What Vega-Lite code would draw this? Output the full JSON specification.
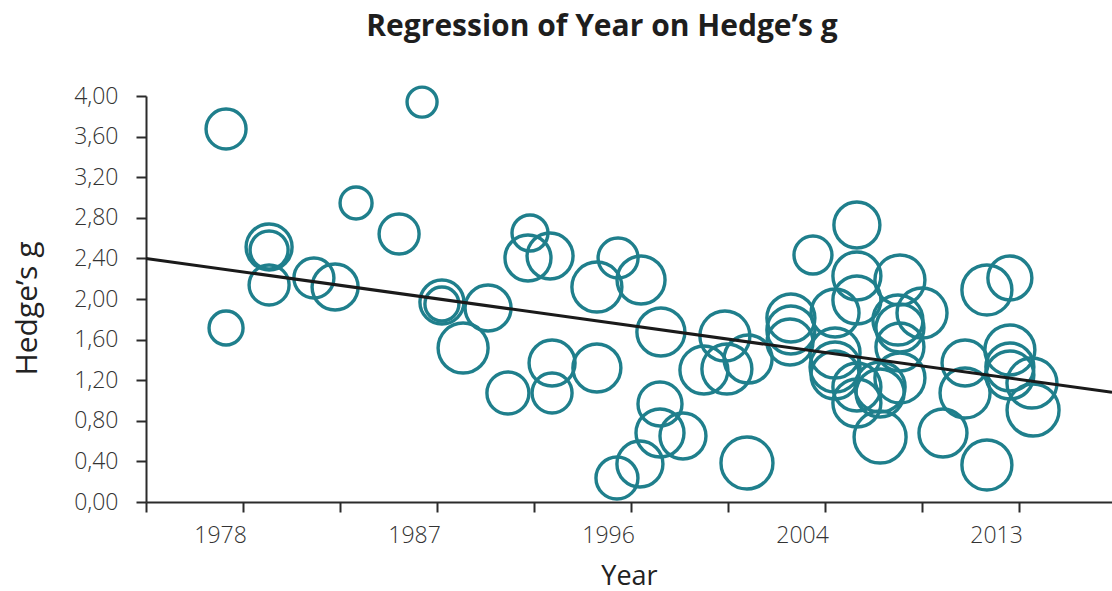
{
  "$schema": "https://vega.github.io/schema/vega-lite/v6.json",
  "width": 966,
  "height": 406,
  "autosize": {"type": "none"},
  "padding": {"left": 146, "top": 96, "right": 0, "bottom": 89},
  "background": "white",
  "title": {
    "text": "Regression of Year on Hedge’s g",
    "font": "Open Sans",
    "fontSize": 30,
    "fontWeight": "bold",
    "color": "#1e1e1e",
    "anchor": "middle",
    "dx": -27,
    "offset": 38
  },
  "config": {
    "view": {"stroke": null},
    "axis": {
      "grid": false,
      "domainColor": "#2b2b2b",
      "domainWidth": 2,
      "tickColor": "#2b2b2b",
      "tickWidth": 2,
      "tickSize": 10,
      "labelFont": "Open Sans",
      "labelFontSize": 23,
      "labelFontWeight": 300,
      "labelColor": "#333333",
      "titleFont": "Open Sans",
      "titleFontSize": 28,
      "titleFontWeight": "normal",
      "titleColor": "#222222"
    }
  },
  "datasets": {
    "studies": [
      {"year": 1977.54, "g": 3.675, "weight": 20},
      {"year": 1986.33, "g": 3.94, "weight": 15},
      {"year": 1983.37, "g": 2.946, "weight": 16},
      {"year": 1985.30, "g": 2.64, "weight": 20},
      {"year": 1979.47, "g": 2.512, "weight": 23},
      {"year": 1979.47, "g": 2.483, "weight": 19},
      {"year": 1979.47, "g": 2.138, "weight": 20},
      {"year": 1981.48, "g": 2.207, "weight": 20},
      {"year": 1982.43, "g": 2.118, "weight": 23},
      {"year": 1977.54, "g": 1.714, "weight": 17},
      {"year": 1987.22, "g": 1.97, "weight": 22},
      {"year": 1987.22, "g": 1.951, "weight": 17},
      {"year": 1989.29, "g": 1.911, "weight": 23},
      {"year": 1988.17, "g": 1.517, "weight": 25},
      {"year": 1990.18, "g": 1.074, "weight": 21},
      {"year": 1991.17, "g": 2.65, "weight": 18},
      {"year": 1991.08, "g": 2.404, "weight": 23},
      {"year": 1992.07, "g": 2.424, "weight": 23},
      {"year": 1992.16, "g": 1.369, "weight": 23},
      {"year": 1992.16, "g": 1.074, "weight": 20},
      {"year": 1994.17, "g": 2.118, "weight": 25},
      {"year": 1994.17, "g": 1.32, "weight": 24},
      {"year": 1995.12, "g": 2.404, "weight": 20},
      {"year": 1996.15, "g": 2.187, "weight": 24},
      {"year": 1997.04, "g": 1.675, "weight": 24},
      {"year": 1997.0, "g": 0.966, "weight": 22},
      {"year": 1997.0, "g": 0.68, "weight": 24},
      {"year": 1998.03, "g": 0.65, "weight": 23},
      {"year": 1996.10, "g": 0.374, "weight": 23},
      {"year": 1995.07, "g": 0.236, "weight": 21},
      {"year": 1999.91, "g": 1.635, "weight": 25},
      {"year": 1998.97, "g": 1.30, "weight": 24},
      {"year": 2000.0, "g": 1.31, "weight": 25},
      {"year": 2000.95, "g": 1.409, "weight": 24},
      {"year": 2000.9, "g": 0.384, "weight": 26},
      {"year": 2002.87, "g": 1.813, "weight": 24},
      {"year": 2002.87, "g": 1.695, "weight": 24},
      {"year": 2002.83, "g": 1.576, "weight": 23},
      {"year": 2003.86, "g": 2.433, "weight": 19},
      {"year": 2005.83, "g": 2.729, "weight": 23},
      {"year": 2005.83, "g": 2.227, "weight": 24},
      {"year": 2005.83, "g": 1.99, "weight": 24},
      {"year": 2007.76, "g": 2.187, "weight": 25},
      {"year": 2004.85, "g": 1.862, "weight": 24},
      {"year": 2004.85, "g": 1.468, "weight": 25},
      {"year": 2004.85, "g": 1.33, "weight": 25},
      {"year": 2004.85, "g": 1.251, "weight": 24},
      {"year": 2008.75, "g": 1.862, "weight": 25},
      {"year": 2007.67, "g": 1.793, "weight": 25},
      {"year": 2007.76, "g": 1.714, "weight": 24},
      {"year": 2007.76, "g": 1.527, "weight": 24},
      {"year": 2007.76, "g": 1.222, "weight": 25},
      {"year": 2005.83, "g": 1.133, "weight": 24},
      {"year": 2006.87, "g": 1.133, "weight": 25},
      {"year": 2005.83, "g": 0.975, "weight": 24},
      {"year": 2006.87, "g": 1.074, "weight": 24},
      {"year": 2006.87, "g": 0.64, "weight": 26},
      {"year": 2009.69, "g": 0.68, "weight": 24},
      {"year": 2010.68, "g": 1.369, "weight": 23},
      {"year": 2010.68, "g": 1.074, "weight": 25},
      {"year": 2011.66, "g": 2.089, "weight": 25},
      {"year": 2012.69, "g": 2.207, "weight": 22},
      {"year": 2012.69, "g": 1.498, "weight": 25},
      {"year": 2012.69, "g": 1.33, "weight": 24},
      {"year": 2012.69, "g": 1.251, "weight": 24},
      {"year": 2013.68, "g": 1.172, "weight": 25},
      {"year": 2013.73, "g": 0.906, "weight": 26},
      {"year": 2011.66, "g": 0.365, "weight": 25}
    ],
    "fit": [
      {"year": 1973.95, "g": 2.40},
      {"year": 2017.27, "g": 1.08}
    ]
  },
  "layer": [
    {
      "data": {"name": "studies"},
      "mark": {"type": "point", "shape": "circle", "filled": false, "strokeWidth": 3.4, "color": "#1f7f8c", "opacity": 1},
      "encoding": {
        "x": {
          "field": "year",
          "type": "quantitative",
          "title": "Year",
          "scale": {"domain": [1973.95, 2017.27], "nice": false, "zero": false},
          "axis": {
            "values": [1973.95, 1978.3, 1982.65, 1987.0, 1991.35, 1995.7, 2000.05, 2004.4, 2008.75, 2013.1],
            "labelExpr": "round((datum.value - 1973.95) / 4.35) % 2 == 1 ? format(round(datum.value), 'd') : ''",
            "labelFlush": false,
            "labelOverlap": false,
            "labelOffset": -23,
            "labelPadding": 12,
            "titlePadding": 16,
            "titleFontSize": 27
          }
        },
        "y": {
          "field": "g",
          "type": "quantitative",
          "title": "Hedge’s g",
          "scale": {"domain": [0, 4], "nice": false, "zero": true},
          "axis": {
            "values": [0, 0.4, 0.8, 1.2, 1.6, 2.0, 2.4, 2.8, 3.2, 3.6, 4.0],
            "labelExpr": "replace(format(datum.value, '.2f'), '.', ',')",
            "labelPadding": 18,
            "labelFlush": false,
            "labelOverlap": false,
            "titlePadding": 31,
            "titleY": 212,
            "titleFontSize": 30
          }
        },
        "size": {
          "field": "weight",
          "type": "quantitative",
          "scale": {"type": "pow", "exponent": 2, "domain": [15, 26], "range": [900, 2704]},
          "legend": null
        }
      }
    },
    {
      "data": {"name": "fit"},
      "mark": {"type": "line", "color": "#1a1a1a", "strokeWidth": 3},
      "encoding": {
        "x": {"field": "year", "type": "quantitative"},
        "y": {"field": "g", "type": "quantitative"}
      }
    }
  ]
}
